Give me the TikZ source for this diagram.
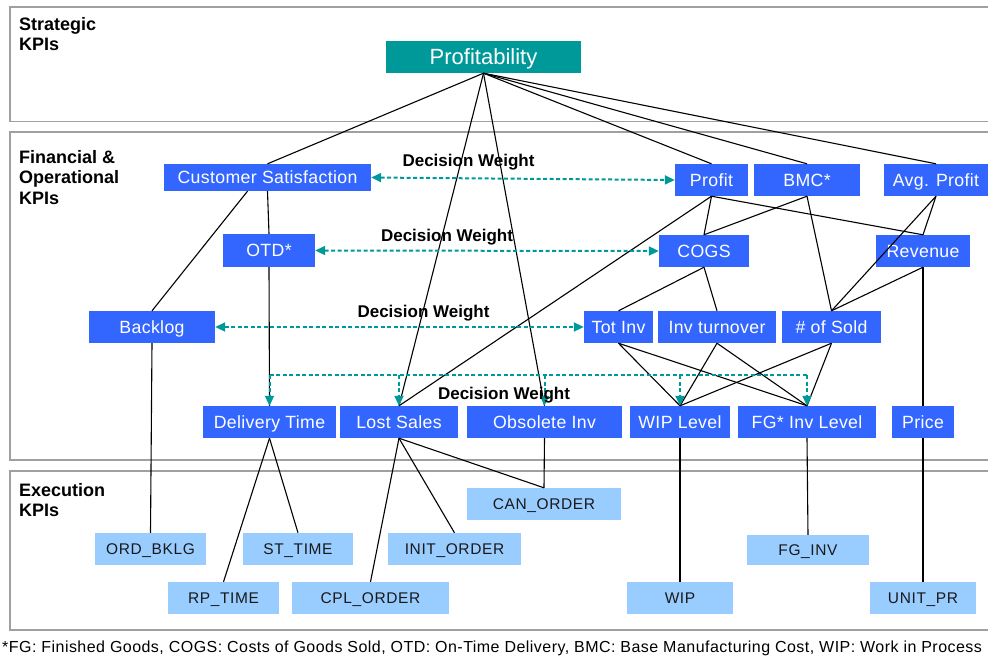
\documentclass[tikz,border=0pt]{standalone}
\usepackage{fontspec}
\setmainfont{Liberation Sans}
\newfontfamily\kpifont[LetterSpace=2]{Liberation Sans}
\newfontfamily\execfont[LetterSpace=4]{Liberation Sans}
\newfontfamily\notefont[LetterSpace=2.9]{Liberation Sans}
\usetikzlibrary{arrows.meta}
\definecolor{kpiblue}{RGB}{51,102,255}
\definecolor{kpiteal}{RGB}{0,153,153}
\definecolor{kpilight}{RGB}{153,204,255}
\definecolor{panelgray}{RGB}{160,160,160}
\begin{document}
\begin{tikzpicture}[x=1pt,y=-1pt,
  panel/.style={draw=panelgray, line width=1.5pt},
  paneltitle/.style={anchor=north west, inner sep=0pt, align=left,
    font=\fontsize{18}{20.5}\selectfont\bfseries},
  kpibase/.style={inner sep=0pt, text depth=0pt},
  topkpi/.style={kpibase, text height=15.8pt, fill=kpiteal, text=white, font=\fontsize{22}{22}\selectfont},
  kpi/.style={kpibase, text height=12.7pt, fill=kpiblue, text=white, font=\fontsize{17.7}{18}\kpifont},
  exkpi/.style={kpibase, text height=11.1pt, fill=kpilight, text=black!90, font=\fontsize{15.5}{16}\execfont},
  sz/.style 2 args={minimum width=#1pt, minimum height=#2pt},
  link/.style={draw=black, line width=1.1pt},
  weight/.style={draw=kpiteal, line width=2pt, dash pattern=on 4pt off 2.5pt},
  wtip/.style={-{Triangle[length=10pt,width=9pt]}},
  wtips/.style={{Triangle[length=10pt,width=9pt]}-{Triangle[length=10pt,width=9pt]}},
  wlabel/.style={anchor=base, inner sep=0pt, font=\fontsize{17}{17}\selectfont\bfseries}
]
\useasboundingbox (0,0) rectangle (988,657);

% layer frames
\draw[panel] (10,7) rectangle (998,121.5);
\draw[panel] (10,132) rectangle (998,460);
\draw[panel] (10,471) rectangle (998,630);
\node[paneltitle] (tstrat) at (19,17) {Strategic\\KPIs};
\node[paneltitle] (tfin) at (19,150) {Financial \&\\Operational\\KPIs};
\node[paneltitle] (texec) at (19,483) {Execution\\KPIs};

% strategic KPI
\node[topkpi, sz={195}{32}] (prof) at (483.5,57) {Profitability};

% financial & operational KPIs
\node[kpi, sz={207}{27}] (cs) at (267.5,177.5) {Customer Satisfaction};
\node[kpi, sz={73}{32}] (profit) at (711.5,180) {Profit};
\node[kpi, sz={106}{32}] (bmc) at (807,180) {BMC*};
\node[kpi, sz={104}{32}] (avg) at (936,180) {Avg. Profit};
\node[kpi, sz={92}{33}] (otd) at (269,250.5) {OTD*};
\node[kpi, sz={90}{32}] (cogs) at (704,251) {COGS};
\node[kpi, sz={94}{32}] (rev) at (923,251) {Revenue};
\node[kpi, sz={126}{32}] (backlog) at (152,327) {Backlog};
\node[kpi, sz={69}{32}] (totinv) at (618.5,327) {Tot Inv};
\node[kpi, sz={118}{32}] (invturn) at (717,327) {Inv turnover};
\node[kpi, sz={99}{32}] (sold) at (831.5,327) {\# of Sold};
\node[kpi, sz={133}{32}] (dt) at (269.5,422) {Delivery Time};
\node[kpi, sz={118}{32}] (ls) at (399,422) {Lost Sales};
\node[kpi, sz={155}{32}] (obs) at (544.5,422) {Obsolete Inv};
\node[kpi, sz={100}{32}] (wipl) at (680,422) {WIP Level};
\node[kpi, sz={138}{32}] (fgl) at (807,422) {FG* Inv Level};
\node[kpi, sz={62}{32}] (price) at (923,422) {Price};

% execution KPIs
\node[exkpi, sz={154}{32}] (can) at (544,504) {CAN\_ORDER};
\node[exkpi, sz={111}{32}] (ordb) at (150.5,549) {ORD\_BKLG};
\node[exkpi, sz={110}{32}] (st) at (298,549) {ST\_TIME};
\node[exkpi, sz={133}{32}] (init) at (454.5,549) {INIT\_ORDER};
\node[exkpi, sz={122}{30}] (fginv) at (808,550) {FG\_INV};
\node[exkpi, sz={111}{32}] (rp) at (223.5,598) {RP\_TIME};
\node[exkpi, sz={157}{32}] (cpl) at (370.5,598) {CPL\_ORDER};
\node[exkpi, sz={106}{32}] (wip) at (680,598) {WIP};
\node[exkpi, sz={106}{32}] (unit) at (923,598) {UNIT\_PR};

% KPI hierarchy links
\foreach \t in {cs,ls,obs,profit,bmc,avg}
  \draw[link] (prof.south) -- (\t.north);
\draw[link] ([xshift=-20pt]cs.south) -- (backlog.north);
\draw[link] (cs.south) -- (otd.north);
\draw[link] (otd.south) -- (dt.north);
\draw[link] (profit.south) -- (cogs.north);
\draw[link] (profit.south) -- (ls.north);
\draw[link] (profit.south) -- (rev.north);
\draw[link] (bmc.south) -- (cogs.north);
\draw[link] (bmc.south) -- (sold.north);
\draw[link] (avg.south) -- (rev.north);
\draw[link] (avg.south) -- (sold.north);
\draw[link] (cogs.south) -- (totinv.north);
\draw[link] (cogs.south) -- (invturn.north);
\draw[link] (rev.south) -- (sold.north);
\draw[link] (rev.south) -- (price.north);
\foreach \s in {totinv,invturn,sold}
  \foreach \t in {wipl,fgl}
    \draw[link] (\s.south) -- (\t.north);
\draw[link] (backlog.south) -- (ordb.north);
\draw[link] (dt.south) -- (rp.north);
\draw[link] (dt.south) -- (st.north);
\draw[link] (ls.south) -- (cpl.north);
\draw[link] (ls.south) -- (init.north);
\draw[link] (ls.south) -- (can.north);
\draw[link] (obs.south) -- (can.north);
\draw[link] (wipl.south) -- (wip.north);
\draw[link] (fgl.south) -- (fginv.north);
\draw[link] (price.south) -- (unit.north);

% decision weights
\draw[weight, wtips] (cs.east) -- (profit.west);
\draw[weight, wtips] (otd.east) -- (cogs.west);
\draw[weight, wtips] (backlog.east) -- (totinv.west);
\coordinate (bus) at (0,375);
\draw[weight] (dt.north |- bus) -- (fgl.north |- bus);
\foreach \t in {dt,ls,obs,wipl,fgl}
  \draw[weight, wtip] (\t.north |- bus) -- (\t.north);
\node[wlabel] (w1) at (468.5,166) {Decision Weight};
\node[wlabel] (w2) at (447,241.7) {Decision Weight};
\node[wlabel] (w3) at (423.5,317.7) {Decision Weight};
\node[wlabel] (w4) at (504,399) {Decision Weight};

% abbreviations
\node[anchor=base west, inner sep=0pt, font=\fontsize{16}{16}\notefont] (note) at (2,652)
  {*FG: Finished Goods, COGS: Costs of Goods Sold, OTD: On-Time Delivery, BMC: Base Manufacturing Cost, WIP: Work in Process};
\end{tikzpicture}
\end{document}
